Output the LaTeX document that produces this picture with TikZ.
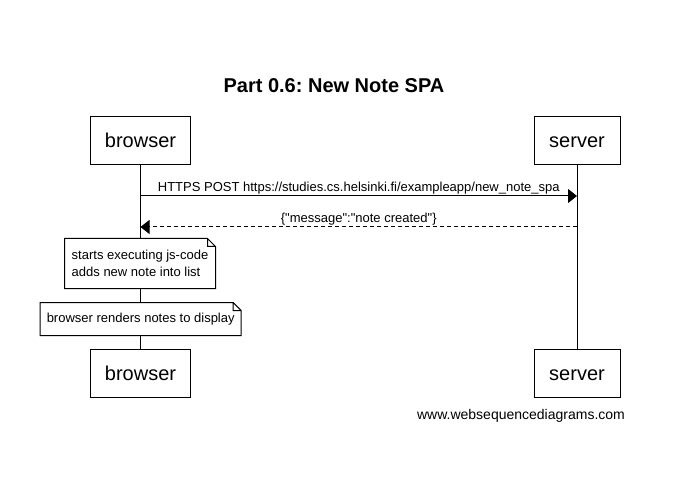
\documentclass[tikz,border=0pt]{standalone}
\usepackage{fontspec}
\setmainfont{Liberation Sans}[Ligatures=TeXOff]
\usetikzlibrary{arrows.meta}
\frenchspacing

\begin{document}
\begin{tikzpicture}
[x=1bp,y=-1bp,line width=1bp,
actor/.style={draw,fill=white,minimum height=48bp,text height=14.4bp,text depth=0bp,font=\fontsize{20bp}{24bp}\selectfont},
note/.style={fill=white,inner xsep=6bp,inner ysep=0bp,font=\fontsize{13bp}{16.5bp}\selectfont,align=left},
msg/.style={-{Triangle[length=9bp,width=14bp]}},
reply/.style={msg,dash pattern=on 4bp off 3bp},
lbl/.style={midway,anchor=base,yshift=4bp,inner sep=0bp,font=\fontsize{13bp}{16bp}\selectfont}]
\useasboundingbox (0,0) rectangle (693,486);
\node[font=\bfseries\fontsize{20bp}{24bp}\selectfont] (title) at (334,86) {Part 0.6: New Note SPA};
\node[actor,minimum width=100bp] (b0) at (140.5,140.5) {browser};
\node[actor,minimum width=86bp] (s0) at (577,140.5) {server};
\node[actor,minimum width=100bp] (b1) at (140.5,373) {browser};
\node[actor,minimum width=86bp] (s1) at (577,373) {server};
\foreach \from/\to in {b0/b1,s0/s1}
\draw (\from) -- (\to);
\coordinate (p1) at (140.5,196);
\coordinate (q1) at (577,196);
\coordinate (p2) at (140.5,227);
\coordinate (q2) at (577,227);
\draw[msg] (p1) -- (q1) node[lbl] {HTTPS POST https://studies.cs.helsinki.fi/exampleapp/new\_note\_spa};
\draw[reply] (q2) -- (p2) node[lbl] {\{"message":"note created"\}};
\node[note,minimum width=150bp,minimum height=49bp] (n1) at (140,263.5) {starts executing js-code\\adds new note into list};
\node[note,minimum width=200bp,minimum height=32bp] (n2) at (140.7,319) {browser renders notes to display};
\foreach \n in {n1,n2}
\draw (\n.south west) -- (\n.north west) -- ([xshift=-8bp]\n.north east) -- ([yshift=-8bp]\n.north east) -- (\n.south east) -- cycle
([xshift=-8bp]\n.north east) |- ([yshift=-8bp]\n.north east);
\node[font=\fontsize{14bp}{17bp}\selectfont] (site) at (521,416) {www.websequencediagrams.com};
\end{tikzpicture}
\end{document}
